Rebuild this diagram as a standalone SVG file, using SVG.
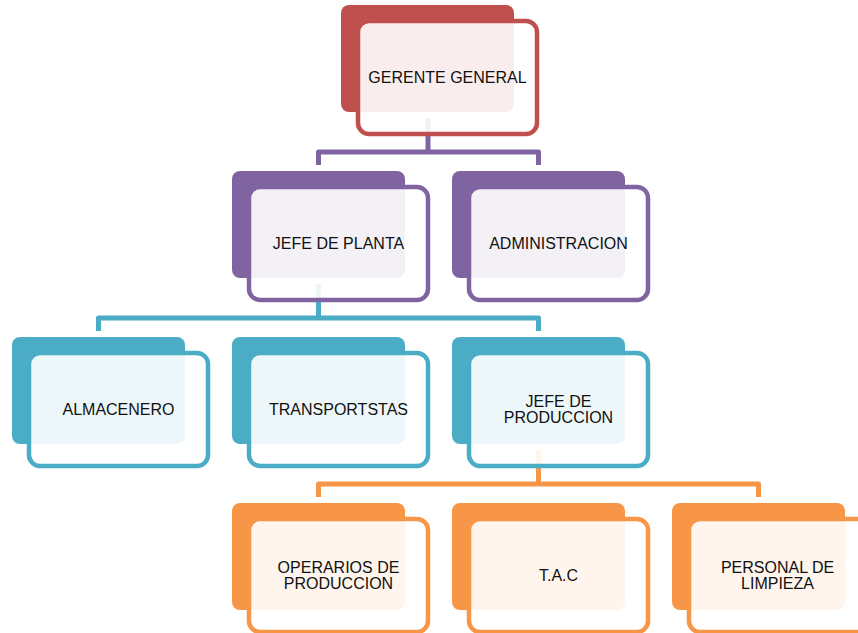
<svg xmlns="http://www.w3.org/2000/svg" width="858" height="633" viewBox="0 0 858 633">
<style>
.bg{stroke:none}
.fr{fill:#ffffff;fill-opacity:0.9;stroke-width:4.5}
.red .bg{fill:#c0504d}.red .fr{stroke:#c0504d}
.pur .bg{fill:#8064a2}.pur .fr{stroke:#8064a2}
.teal .bg{fill:#4bacc6}.teal .fr{stroke:#4bacc6}
.org .bg{fill:#f79646}.org .fr{stroke:#f79646}
.c{fill:none;stroke-width:5;stroke-linejoin:round}
text{font-family:"Liberation Sans",Arial,sans-serif;font-size:16px;fill:#111;text-anchor:middle}
</style>
<rect width="858" height="633" fill="#ffffff"/>
<g id="connectors">
<path class="c" stroke="#8064a2" d="M428,118V152"/>
<path class="c" stroke="#8064a2" d="M318.5,165V152H538.5V165"/>
<path class="c" stroke="#4bacc6" d="M318.5,284V318"/>
<path class="c" stroke="#4bacc6" d="M98.5,331V318H538.5V331"/>
<path class="c" stroke="#f79646" d="M538.5,450V484"/>
<path class="c" stroke="#f79646" d="M318.5,497V484H758.5V497"/>
</g>
<g id="gerente" class="red">
<rect class="bg" x="341" y="5" width="173" height="107" rx="8"/>
<rect class="fr" x="358" y="21" width="179" height="113" rx="11"/>
<text x="447.5" y="83">GERENTE GENERAL</text>
</g>
<g id="jefe-planta" class="pur">
<rect class="bg" x="232" y="171" width="173" height="107" rx="8"/>
<rect class="fr" x="249" y="187" width="179" height="113" rx="11"/>
<text x="338.5" y="249">JEFE DE PLANTA</text>
</g>
<g id="administracion" class="pur">
<rect class="bg" x="452" y="171" width="173" height="107" rx="8"/>
<rect class="fr" x="469" y="187" width="179" height="113" rx="11"/>
<text x="558.5" y="249">ADMINISTRACION</text>
</g>
<g id="almacenero" class="teal">
<rect class="bg" x="12" y="337" width="173" height="107" rx="8"/>
<rect class="fr" x="29" y="353" width="179" height="113" rx="11"/>
<text x="118.5" y="415">ALMACENERO</text>
</g>
<g id="transportistas" class="teal">
<rect class="bg" x="232" y="337" width="173" height="107" rx="8"/>
<rect class="fr" x="249" y="353" width="179" height="113" rx="11"/>
<text x="338.5" y="415">TRANSPORTSTAS</text>
</g>
<g id="jefe-produccion" class="teal">
<rect class="bg" x="452" y="337" width="173" height="107" rx="8"/>
<rect class="fr" x="469" y="353" width="179" height="113" rx="11"/>
<text x="558.5" y="407">JEFE DE</text>
<text x="558.5" y="423">PRODUCCION</text>
</g>
<g id="operarios" class="org">
<rect class="bg" x="232" y="503" width="173" height="107" rx="8"/>
<rect class="fr" x="249" y="519" width="179" height="113" rx="11"/>
<text x="338.5" y="573">OPERARIOS DE</text>
<text x="338.5" y="589">PRODUCCION</text>
</g>
<g id="tac" class="org">
<rect class="bg" x="452" y="503" width="173" height="107" rx="8"/>
<rect class="fr" x="469" y="519" width="179" height="113" rx="11"/>
<text x="558.5" y="581">T.A.C</text>
</g>
<g id="personal-limpieza" class="org">
<rect class="bg" x="672" y="503" width="173" height="107" rx="8"/>
<rect class="fr" x="689" y="519" width="179" height="113" rx="11"/>
<text x="777.5" y="573">PERSONAL DE</text>
<text x="777.5" y="589">LIMPIEZA</text>
</g>
</svg>
